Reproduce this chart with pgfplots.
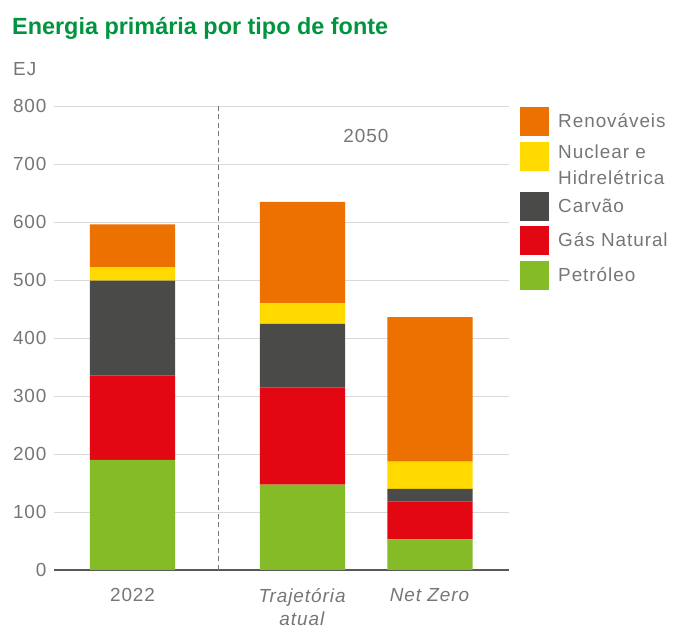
\documentclass[border=0pt]{standalone}
\usepackage{pgfplots}
\pgfplotsset{compat=1.18}
\usepackage{fontspec}
\setmainfont{Liberation Sans}
\newfontfamily\lblfont[LetterSpace=5]{Liberation Sans}
\definecolor{cOrange}{RGB}{237,113,0}
\definecolor{cYellow}{RGB}{255,217,0}
\definecolor{cDark}{RGB}{74,74,72}
\definecolor{cRed}{RGB}{227,6,19}
\definecolor{cGreen}{RGB}{132,187,38}
\definecolor{titleGreen}{RGB}{0,148,62}
\definecolor{txtGray}{RGB}{118,118,118}
\definecolor{gridGray}{RGB}{217,217,217}
\definecolor{axisGray}{RGB}{89,89,89}
\pgfplotsset{
  boximg/.style={legend image code/.code={\fill[##1] (0bp,-14.5bp) rectangle (29bp,14.5bp); \path (38bp,0bp);}},
  nucimg/.style={legend image code/.code={\fill[##1] (0bp,-5bp) rectangle (29bp,24bp); \path (38bp,0bp);}},
}
\begin{document}
\begin{tikzpicture}
\useasboundingbox (0,0) rectangle (678bp,629bp);
\node[anchor=base west, inner sep=0pt, font=\bfseries\fontsize{23.5}{28}\selectfont, text=titleGreen] at (12bp,594bp) {Energia primária por tipo de fonte};
\node[anchor=west, inner sep=0pt, font=\lblfont\fontsize{19}{26}\selectfont, text=txtGray] at (13bp,560bp) {EJ};
\begin{axis}[
  at={(54bp,59bp)}, anchor=south west,
  scale only axis, width=455bp, height=464bp,
  ybar stacked, bar width=0.67,
  xmin=-0.616, xmax=2.953, ymin=0, ymax=800,
  ytick={0,100,...,800},
  xtick={0,1.3333,2.3333},
  xticklabels={2022,{\textit{Trajetória}\\\textit{atual}},{\textit{Net Zero}}},
  xticklabel style={align=center, text=txtGray, yshift=-15bp, font=\lblfont\fontsize{19}{23}\selectfont},
  yticklabel style={text=txtGray, xshift=-4bp, font=\lblfont\fontsize{19}{23}\selectfont},
  /pgf/number format/assume math mode=true,
  major tick length=0pt,
  ymajorgrids, grid style={gridGray, line width=0.9pt},
  axis x line*=bottom, axis y line*=left,
  x axis line style={axisGray, line width=1.3pt, -},
  y axis line style={draw=none},
  reverse legend,
  boximg,
  legend style={at={(1,1)}, anchor=north west, xshift=11bp, yshift=-1bp, draw=none, fill=none, inner sep=0pt, row sep=5.5bp,
    nodes={inner sep=0pt, anchor=west, align=left, text=txtGray, font=\lblfont\fontsize{19}{26}\selectfont}},
  legend cell align=left,
]
\addplot[fill=cGreen, draw=none] coordinates {(0,190) (1.3333,147) (2.3333,53)};
\addlegendentry{Petróleo}
\addplot[fill=cRed, draw=none] coordinates {(0,145) (1.3333,168) (2.3333,65.5)};
\addlegendentry{Gás Natural}
\addplot[fill=cDark, draw=none] coordinates {(0,164) (1.3333,109.5) (2.3333,21.5)};
\addlegendentry{Carvão}
\addplot[fill=cYellow, draw=none, nucimg] coordinates {(0,23) (1.3333,35) (2.3333,47)};
\addlegendentry{Nuclear e\\Hidrelétrica}
\addplot[fill=cOrange, draw=none] coordinates {(0,74) (1.3333,175) (2.3333,249)};
\addlegendentry{Renováveis}
\draw[txtGray, line width=0.9pt, dash pattern=on 5bp off 3.5bp] (axis cs:0.67,0) -- (axis cs:0.67,800);
\node[text=txtGray, font=\lblfont\fontsize{19}{23}\selectfont] at (axis cs:1.83,749) {2050};
\end{axis}
\end{tikzpicture}
\end{document}
